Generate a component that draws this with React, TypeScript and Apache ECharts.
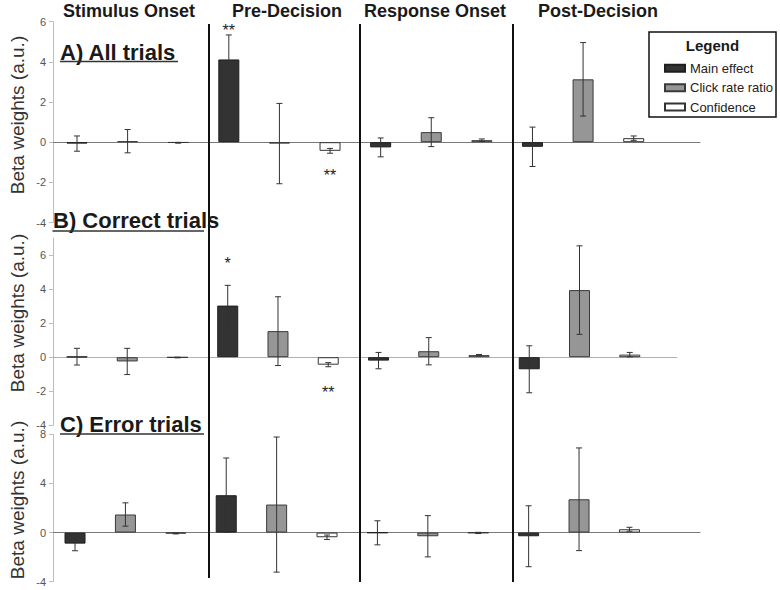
import React, { useEffect, useRef } from "react";
import * as echarts from "echarts";

// ---------- data ----------
const epochs = ["Stimulus Onset", "Pre-Decision", "Response Onset", "Post-Decision"];
const seriesNames = ["Main effect", "Click rate ratio", "Confidence"];
const panelTitles = ["A) All trials", "B) Correct trials", "C) Error trials"];
const yAxisTitle = "Beta weights (a.u.)";
const legendTitle = "Legend";

// Panel A: all trials (values per epoch, and +/- error)
const allMain = [-0.07, 4.12, -0.26, -0.23];
const allMainErr = [0.38, 1.22, 0.47, 0.98];
const allClick = [0.05, -0.07, 0.5, 3.13];
const allClickErr = [0.58, 2.0, 0.72, 1.83];
const allConf = [-0.03, -0.43, 0.1, 0.2];
const allConfErr = [0.02, 0.12, 0.06, 0.11];

// Panel B: correct trials
const corMain = [0.03, 3.03, -0.2, -0.71];
const corMainErr = [0.49, 1.19, 0.48, 1.38];
const corClick = [-0.25, 1.53, 0.35, 3.94];
const corClickErr = [0.77, 2.02, 0.8, 2.6];
const corConf = [-0.02, -0.44, 0.12, 0.15];
const corConfErr = [0.02, 0.12, 0.04, 0.13];

// Panel C: error trials
const errMain = [-0.9, 3.04, -0.02, -0.3];
const errMainErr = [0.58, 3.03, 0.98, 2.48];
const errClick = [1.47, 2.28, -0.3, 2.71];
const errClickErr = [0.95, 5.5, 1.68, 4.18];
const errConf = [-0.08, -0.38, -0.03, 0.27];
const errConfErr = [0.03, 0.18, 0.05, 0.16];

// significance marks: [epoch, series, y, label]
const sigA: [number, number, number, string][] = [[1, 0, 5.54, "**"], [1, 2, -1.66, "**"]];
const sigB: [number, number, number, string][] = [[1, 0, 5.53, "*"], [1, 2, -2.06, "**"]];
const sigC: [number, number, number, string][] = [];

// y tick labels
const yTicksA = [-4, -2, 0, 2, 4, 6];
const yTicksB = [-4, -2, 0, 2, 4, 6];
const yTicksC = [-4, 0, 4, 8];

// ---------- styles / layout ----------
const FONT = "'Liberation Sans', Arial, Helvetica, sans-serif";
const fills = ["#333333", "#969696", "#ffffff"];
const borders = ["#1e1e1e", "#3a3a3a", "#333333"];

const panels = [
  {
    vals: [allMain, allClick, allConf], errs: [allMainErr, allClickErr, allConfErr], sig: sigA,
    yMin: -4, yMax: 6, yTicks: yTicksA, top: 21.7, height: 200.8,
    xMin: -0.474, xMax: 12.31, right: 80, zero: "#7a7a7a",
    tx: 60, ty: 52.5, ul: [60, 178, 61.5], yTitleY: 115,
  },
  {
    vals: [corMain, corClick, corConf], errs: [corMainErr, corClickErr, corConfErr], sig: sigB,
    yMin: -4, yMax: 7, yTicks: yTicksB, top: 238, height: 187.3,
    xMin: -0.477, xMax: 11.94, right: 103, zero: "#b0b0b0",
    tx: 53, ty: 220.3, ul: [52.5, 204, 231], yTitleY: 313,
  },
  {
    vals: [errMain, errClick, errConf], errs: [errMainErr, errClickErr, errConfErr], sig: sigC,
    yMin: -4, yMax: 8, yTicks: yTicksC, top: 434.3, height: 147.4,
    xMin: -0.437, xMax: 12.4, right: 80, zero: "#7a7a7a",
    tx: 60, ty: 424.2, ul: [60, 204, 434], yTitleY: 500,
  },
];

const headerX = [129, 287, 435, 598];
const separatorX = [209, 360, 513];

function buildOption() {
  const grid: any[] = [];
  const xAxis: any[] = [];
  const yAxis: any[] = [];
  const series: any[] = [];
  const graphic: any[] = [];

  panels.forEach((p, i) => {
    grid.push({ left: 53, right: p.right, top: p.top, height: p.height, containLabel: false });
    xAxis.push({
      type: "value", gridIndex: i, min: p.xMin, max: p.xMax,
      axisLine: { show: true, onZero: true, lineStyle: { color: p.zero, width: 1 } },
      axisTick: { show: false }, axisLabel: { show: false }, splitLine: { show: false },
    });
    yAxis.push({
      type: "value", gridIndex: i, min: p.yMin, max: p.yMax,
      axisLine: { show: true, onZero: false, lineStyle: { color: "#bdbdbd", width: 1 } },
      axisTick: { show: true, length: 4, lineStyle: { color: "#bdbdbd" }, customValues: p.yTicks },
      axisLabel: { customValues: p.yTicks, color: "#555", fontSize: 11, margin: 7, fontFamily: FONT },
      splitLine: { show: false },
    });
    for (let s = 0; s < 3; s++) {
      series.push({
        type: "bar", name: seriesNames[s], xAxisIndex: i, yAxisIndex: i,
        barWidth: 21, barGap: "-100%",
        data: p.vals[s].map((v, e) => [e * 3 + s, v]),
        itemStyle: { color: fills[s], borderColor: borders[s], borderWidth: 1 },
        z: 2,
      });
    }
    const errData: number[][] = [];
    for (let s = 0; s < 3; s++) {
      p.vals[s].forEach((v, e) => errData.push([e * 3 + s, v, p.errs[s][e]]));
    }
    series.push({
      type: "custom", xAxisIndex: i, yAxisIndex: i, data: errData, z: 5, silent: true,
      renderItem: (params: any, api: any) => {
        const x = api.value(0), v = api.value(1), er = api.value(2);
        const t = api.coord([x, v + er]);
        const b = api.coord([x, v - er]);
        const cw = 3;
        const st = { stroke: "#333", lineWidth: 1 };
        return {
          type: "group",
          children: [
            { type: "line", shape: { x1: t[0], y1: t[1], x2: b[0], y2: b[1] }, style: st },
            { type: "line", shape: { x1: t[0] - cw, y1: t[1], x2: t[0] + cw, y2: t[1] }, style: st },
            { type: "line", shape: { x1: b[0] - cw, y1: b[1], x2: b[0] + cw, y2: b[1] }, style: st },
          ],
        };
      },
    });
    if (p.sig.length) {
      series.push({
        type: "custom", xAxisIndex: i, yAxisIndex: i, z: 6, silent: true,
        data: p.sig.map((d) => [d[0] * 3 + d[1], d[2]]),
        renderItem: (params: any, api: any) => {
          const pt = api.coord([api.value(0), api.value(1)]);
          return {
            type: "text", x: pt[0], y: pt[1],
            style: {
              text: p.sig[params.dataIndex][3], fill: "#222", fontSize: 16, fontFamily: FONT,
              align: "center", verticalAlign: "middle",
            },
          };
        },
      });
    }

    // panel title + underline
    graphic.push({
      type: "text", x: p.tx, y: p.ty, z: 10,
      style: {
        text: panelTitles[i], fill: "#1a1a1a", fontSize: 22, fontWeight: "bold", fontFamily: FONT,
        align: "left", verticalAlign: "middle", textAlign: "left", textVerticalAlign: "middle",
      },
    });
    graphic.push({
      type: "line", z: 10,
      shape: { x1: p.ul[0], y1: p.ul[2], x2: p.ul[1], y2: p.ul[2] },
      style: { stroke: "#333", lineWidth: 1.5 },
    });
    // y axis title
    graphic.push({
      type: "text", x: 17, y: p.yTitleY, rotation: Math.PI / 2, z: 10,
      style: {
        text: yAxisTitle, fill: "#333", fontSize: 19, fontFamily: FONT,
        align: "center", verticalAlign: "middle", textAlign: "center", textVerticalAlign: "middle",
      },
    });
  });

  epochs.forEach((name, k) => {
    graphic.push({
      type: "text", x: headerX[k], y: 11, z: 10,
      style: {
        text: name, fill: "#1a1a1a", fontSize: 18, fontWeight: "bold", fontFamily: FONT,
        align: "center", verticalAlign: "middle", textAlign: "center", textVerticalAlign: "middle",
      },
    });
  });
  separatorX.forEach((x, k) => {
    graphic.push({
      type: "line", z: 9,
      shape: { x1: x, y1: 24, x2: x, y2: k === 0 ? 578 : 582 },
      style: { stroke: "#111", lineWidth: 2 },
    });
  });
  // legend box and title
  graphic.push({
    type: "rect", z: 1,
    shape: { x: 649, y: 32, width: 127, height: 85 },
    style: { fill: "#fff", stroke: "#111", lineWidth: 1.5 },
  });
  graphic.push({
    type: "text", x: 712.5, y: 45.5, z: 10,
    style: {
      text: legendTitle, fill: "#1a1a1a", fontSize: 15, fontWeight: "bold", fontFamily: FONT,
      align: "center", verticalAlign: "middle", textAlign: "center", textVerticalAlign: "middle",
    },
  });

  return {
    animation: false,
    backgroundColor: "#ffffff",
    textStyle: { fontFamily: FONT },
    grid, xAxis, yAxis, series, graphic,
    legend: {
      data: seriesNames, orient: "vertical", left: 664, top: 61.8, padding: 0,
      itemWidth: 20, itemHeight: 7, itemGap: 6.4, icon: "rect", selectedMode: false,
      textStyle: { fontSize: 13, color: "#222", fontFamily: FONT },
      z: 12,
    },
  };
}

export default function App() {
  const ref = useRef<HTMLDivElement>(null);
  useEffect(() => {
    if (!ref.current) return;
    const chart = echarts.init(ref.current, undefined, { renderer: "svg" });
    chart.setOption(buildOption() as any);
    return () => chart.dispose();
  }, []);
  return (
    <div
      ref={ref}
      style={{ position: "fixed", left: 0, top: 0, width: 780, height: 590, background: "#fff" }}
    />
  );
}
